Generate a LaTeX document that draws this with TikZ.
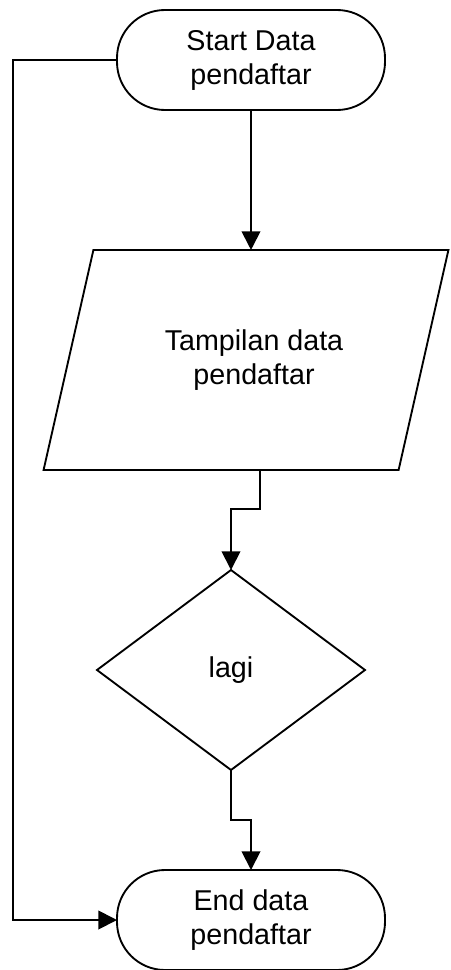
\documentclass[tikz,border=0pt]{standalone}
\usepackage{fontspec}
\setmainfont{Liberation Sans}
\usetikzlibrary{arrows.meta,calc,shapes.geometric}

\tikzset{
  terminal/.style={draw,line width=1.4pt,rectangle,rounded corners=36pt,minimum width=201pt,minimum height=75pt,align=center,outer sep=0pt},
  iobox/.style={draw,line width=1.4pt,trapezium,trapezium left angle=64.5,trapezium right angle=115.5,trapezium stretches=true,minimum width=304.5pt,minimum height=165pt,align=center,outer sep=0pt},
  decide/.style={draw,line width=1.4pt,diamond,minimum width=201pt,minimum height=150pt,inner sep=0pt,outer sep=0pt},
  flow/.style={line width=1.4pt,-{Triangle[length=14pt,width=14pt]}}
}

\begin{document}
\begin{tikzpicture}[x=0.75pt,y=-0.75pt,font=\fontsize{21.5}{25.5}\selectfont]
			\useasboundingbox (0,0) rectangle (450,970);
			
			% Shapes
			\node[terminal] (start) at (251,60) {Start Data\\pendaftar};
			\node[iobox] (tampil) at (246,360) {\hspace*{12pt}Tampilan data\\\hspace*{12pt}pendaftar};
			\node[decide] (lagi) at (231,670) {lagi};
			\node[terminal] (end) at (251,920) {End data\\pendaftar};
			\coordinate (back) at (13,60);
			\coordinate (out) at ($(tampil.south)+(14,0)$);
			
			% Connectors
			\draw[flow] (start.south) -- (start.south |- tampil.north);
			\draw[flow] (out) -- ++(0,39) -| (lagi.north);
			\draw[flow] (lagi.south) -- ++(0,50) -| (end.north);
			\draw[flow] (start.west) -- (back) |- (end.west);
		\end{tikzpicture}
\end{document}
